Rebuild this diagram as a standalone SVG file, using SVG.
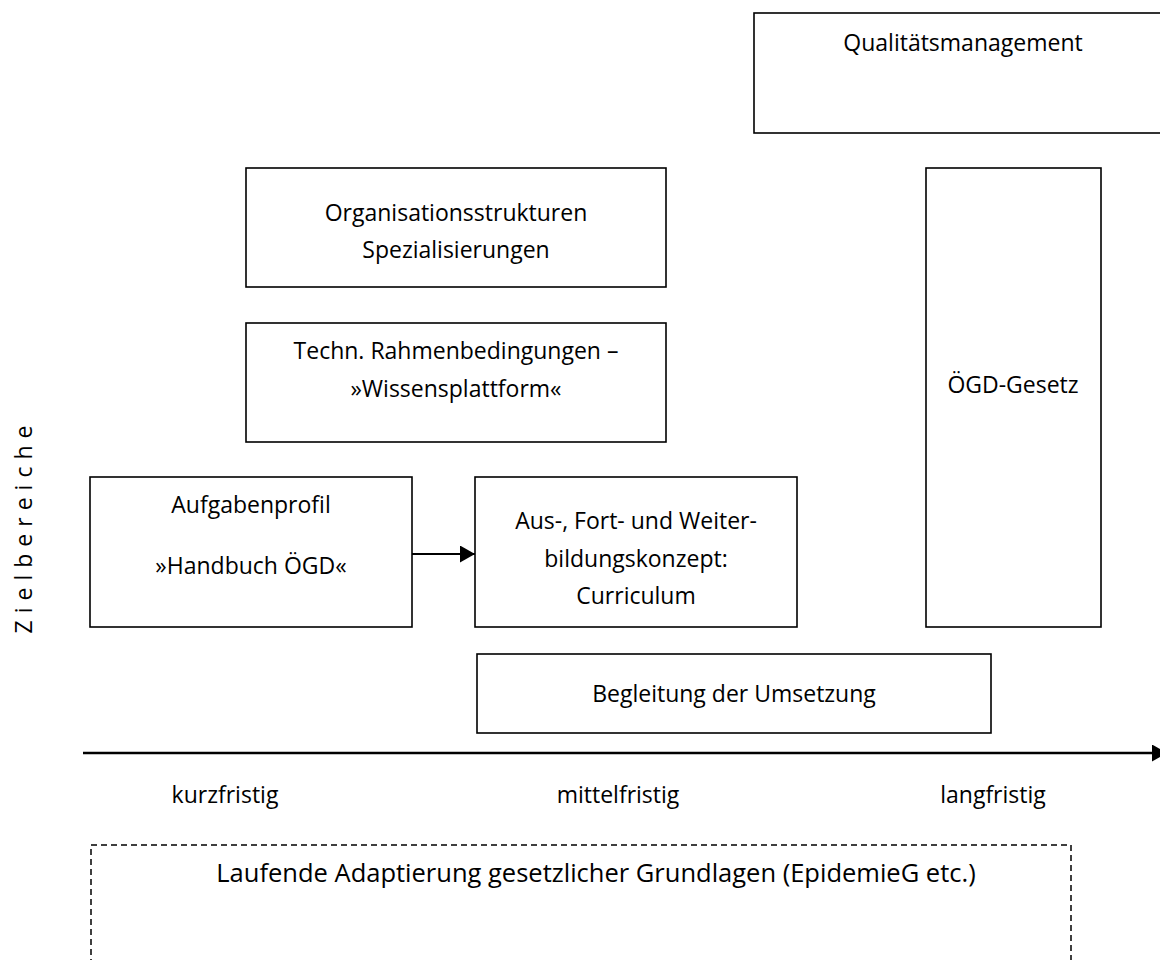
<svg xmlns="http://www.w3.org/2000/svg" width="1160" height="960" viewBox="0 0 1160 960">
<defs>
<style>
.box{fill:#fff;stroke:#000;stroke-width:1.6}
.t{font-family:"Open Sans","Noto Sans",sans-serif;font-size:23px;fill:#000;text-anchor:middle}
.dash{fill:none;stroke:#000;stroke-width:1.5;stroke-dasharray:6 4}
.line{stroke:#000;fill:none}
</style>
<marker id="ah" markerUnits="userSpaceOnUse" markerWidth="16" markerHeight="18" refX="15" refY="8.5" orient="auto">
<path d="M0,0 L15,8.5 L0,17 Z" fill="#000"/>
</marker>
</defs>
<rect width="1160" height="960" fill="#fff"/>
<g id="qualitaet">
<rect class="box" x="754" y="13" width="418" height="120"/>
<text class="t" x="963" y="51">Qualitätsmanagement</text>
</g>
<g id="organisation">
<rect class="box" x="246" y="168" width="420" height="119"/>
<text class="t" x="456" y="221">Organisationsstrukturen</text>
<text class="t" x="456" y="258">Spezialisierungen</text>
</g>
<g id="techn">
<rect class="box" x="246" y="323" width="420" height="119"/>
<text class="t" x="456" y="359">Techn. Rahmenbedingungen –</text>
<text class="t" x="456" y="397">»Wissensplattform«</text>
</g>
<g id="aufgaben">
<rect class="box" x="90" y="477" width="322" height="150"/>
<text class="t" x="251" y="513">Aufgabenprofil</text>
<text class="t" x="251" y="574">»Handbuch ÖGD«</text>
</g>
<g id="ausbildung">
<rect class="box" x="475" y="477" width="322" height="150"/>
<text class="t" x="636" y="529">Aus-, Fort- und Weiter-</text>
<text class="t" x="636" y="567">bildungskonzept:</text>
<text class="t" x="636" y="604">Curriculum</text>
</g>
<g id="gesetz">
<rect class="box" x="926" y="168" width="175" height="459"/>
<text class="t" x="1013" y="393">ÖGD-Gesetz</text>
</g>
<g id="begleitung">
<rect class="box" x="477" y="654" width="514" height="79"/>
<text class="t" x="734" y="702">Begleitung der Umsetzung</text>
</g>
<g id="adaptierung">
<rect class="dash" x="91" y="845" width="980" height="140"/>
<text class="t" x="596" y="882" style="font-size:25.5px">Laufende Adaptierung gesetzlicher Grundlagen (EpidemieG etc.)</text>
</g>
<g id="labels">
<text class="t" x="225" y="803">kurzfristig</text>
<text class="t" x="618" y="803">mittelfristig</text>
<text class="t" x="993" y="803">langfristig</text>
<text class="t" x="0" y="0" style="letter-spacing:7px" transform="translate(32,526) rotate(-90)">Zielbereiche</text>
</g>
<g id="connectors">
<line class="line" x1="83" y1="753" x2="1167" y2="753" stroke-width="2.6" marker-end="url(#ah)"/>
<line class="line" x1="412" y1="554" x2="475" y2="554" stroke-width="2" marker-end="url(#ah)"/>
</g>
</svg>
